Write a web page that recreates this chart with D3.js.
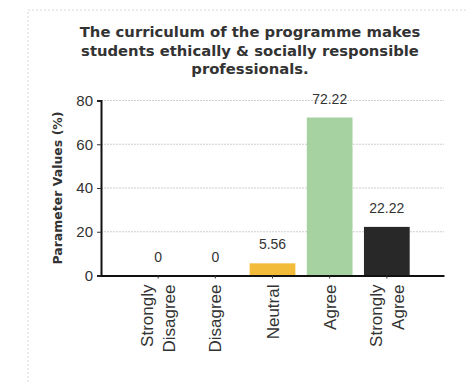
<!DOCTYPE html>
<html><head><meta charset="utf-8">
<script src="https://cdn.jsdelivr.net/npm/d3@7"></script>
<style>body{margin:0;background:#fff}svg{display:block}</style>
</head><body>
<script>
const categories = [["Strongly","Disagree"],["Disagree"],["Neutral"],["Agree"],["Strongly","Agree"]];
const values = [0, 0, 5.56, 72.22, 22.22];
const valueLabels = ["0", "0", "5.56", "72.22", "22.22"];
const colors = ["#f3bb3a", "#f3bb3a", "#f3bb3a", "#a6d2a1", "#282828"];
const yTicks = [0, 20, 40, 60, 80];
const titleLines = ["The curriculum of the programme makes", "students ethically & socially responsible", "professionals."];
const yLabel = "Parameter Values (%)";

const W = 467, H = 384;
const svg = d3.select("body").append("svg").attr("width", W).attr("height", H);
svg.append("rect").attr("x", 28).attr("y", 10).attr("width", 460).attr("height", 400)
  .attr("fill", "none").attr("stroke", "#d8d8d8").attr("stroke-dasharray", "2,2");

const x0 = 101, x1 = 444, yTop = 100.5, yBot = 275.5;
const ids = categories.map((c, i) => "c" + i);
const x = d3.scaleBand().domain(ids).range([x0, x1]).paddingInner(0.2).paddingOuter(0.6);
const y = d3.scaleLinear().domain([0, 80]).range([yBot, yTop]);

// title
svg.append("text").attr("x", 250).attr("text-anchor", "middle")
  .attr("font-family", "DejaVu Sans").attr("font-weight", "bold").attr("font-size", 14.8).attr("fill", "#333")
  .selectAll("tspan").data(titleLines).join("tspan")
  .attr("x", 250).attr("y", (d, i) => 37 + i * 18.5).text(d => d);

// grid
svg.append("g").selectAll("line").data(yTicks.filter(t => t > 0)).join("line")
  .attr("x1", x0).attr("x2", x1).attr("y1", d => y(d)).attr("y2", d => y(d))
  .attr("stroke", "#cfcfcf").attr("stroke-dasharray", "2,1");

// bars
svg.append("g").selectAll("rect").data(values).join("rect")
  .attr("x", (d, i) => x(ids[i])).attr("width", x.bandwidth())
  .attr("y", d => y(d)).attr("height", d => yBot - y(d))
  .attr("fill", (d, i) => colors[i]);

// value labels
svg.append("g").selectAll("text").data(values).join("text")
  .attr("x", (d, i) => x(ids[i]) + x.bandwidth() / 2).attr("y", d => y(d) - 14)
  .attr("text-anchor", "middle").attr("font-family", "Liberation Sans").attr("font-size", 14).attr("fill", "#333")
  .text((d, i) => valueLabels[i]);

// y axis
const ya = svg.append("g").attr("transform", `translate(${x0},0)`)
  .call(d3.axisLeft(y).tickValues(yTicks).tickSize(4).tickFormat(d3.format("d")));
ya.select(".domain").attr("stroke", "#111").attr("stroke-width", 2);
ya.selectAll(".tick line").attr("stroke", "#333");
ya.selectAll(".tick text").attr("font-family", "Liberation Sans").attr("font-size", 15).attr("fill", "#333").attr("x", -8);

// x axis
const xa = svg.append("g").attr("transform", `translate(0,${yBot})`)
  .call(d3.axisBottom(x).tickSize(3).tickSizeOuter(0).tickFormat(""));
xa.select(".domain").attr("stroke", "#111").attr("stroke-width", 2);
xa.selectAll(".tick line").attr("stroke", "#333");

// x labels
const xl = svg.append("g").selectAll("text").data(categories).join("text")
  .attr("transform", (d, i) => `translate(${x(ids[i]) + x.bandwidth() / 2},${yBot + 9}) rotate(-90)`)
  .attr("text-anchor", "end").attr("font-family", "Liberation Sans").attr("font-size", 17).attr("fill", "#333");
xl.selectAll("tspan").data(d => d.map((t, j) => ({t, j, n: d.length}))).join("tspan")
  .attr("x", 0).attr("y", d => 6 + (d.j - (d.n - 1) / 2) * 21.5).text(d => d.t);

// y label
svg.append("text").attr("transform", `translate(62,188) rotate(-90)`).attr("text-anchor", "middle")
  .attr("font-family", "DejaVu Sans").attr("font-weight", "bold").attr("font-size", 12.5).attr("fill", "#333")
  .text(yLabel);
</script>
</body></html>
